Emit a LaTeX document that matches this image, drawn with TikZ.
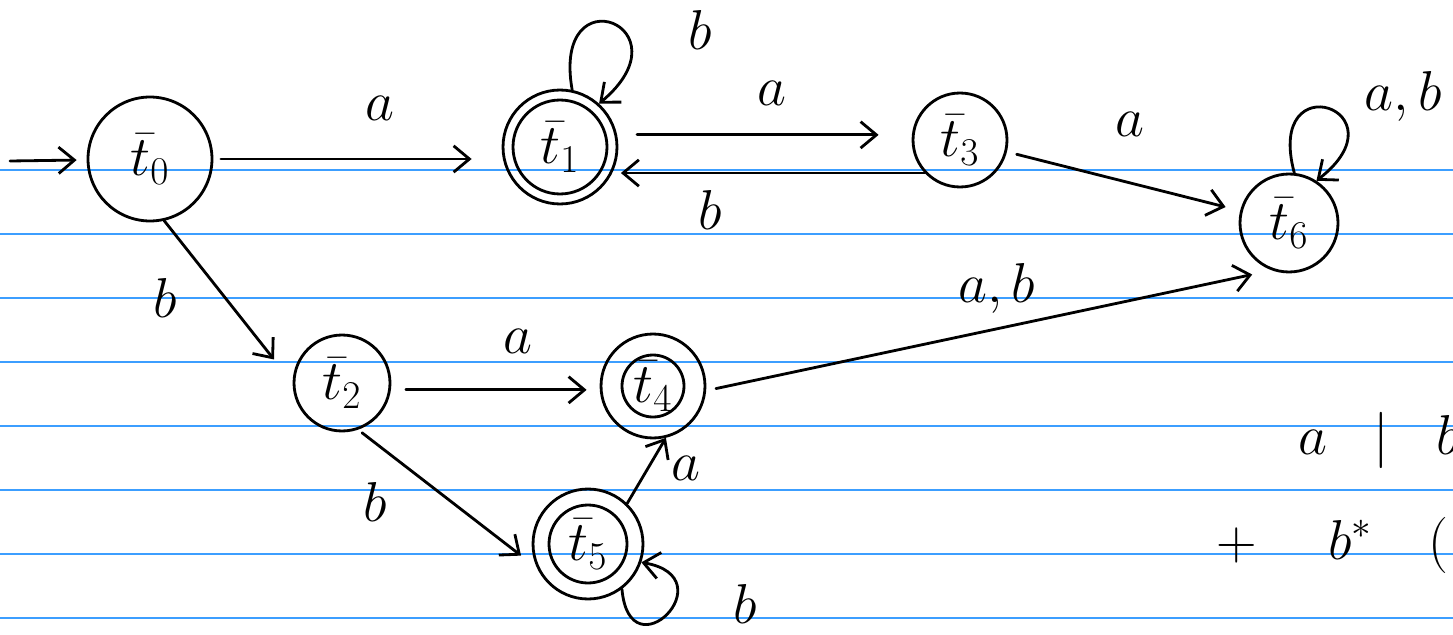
\RequirePackage{fix-cm}
\documentclass[tikz,border=0pt]{standalone}
\usepackage{amsmath,amssymb}
\usetikzlibrary{arrows.meta}
\definecolor{ruleblue}{RGB}{60,158,255}

\begin{document}
\begin{tikzpicture}[x=0.02cm, y=-0.02cm,
  state/.style={circle, draw, line width=1.6pt, inner sep=0pt},
  trans/.style={line width=1.6pt, line cap=round, -{Straight Barb[length=9pt,width=15pt]}},
  lbl/.style={font=\fontsize{32}{38}\selectfont},
  ruled/.style={ruleblue, line width=0.9pt}]
  \useasboundingbox (0,0) rectangle (1453,635);

  % 罫線
  \foreach \y in {170,234,...,618}
    \draw[ruled] (0,\y) -- (1453,\y);

  % 状態
  \node[state, lbl, minimum size=2.48cm] (t0) at (150,159) {$\bar{t}_0$};
  \node[state, lbl, minimum size=2.28cm] (t1) at (560,147) {$\bar{t}_1$};
  \node[state, minimum size=1.88cm] (t1in) at (t1) {};
  \node[state, lbl, minimum size=1.88cm] (t3) at (960,140) {$\bar{t}_3$};
  \node[state, lbl, minimum size=1.96cm] (t6) at (1289,223) {$\bar{t}_6$};
  \node[state, lbl, minimum size=1.92cm] (t2) at (342,383) {$\bar{t}_2$};
  \node[state, lbl, minimum size=2.08cm] (t4) at (653,386) {$\bar{t}_4$};
  \node[state, minimum size=1.24cm] (t4in) at (t4) {};
  \node[state, lbl, minimum size=2.2cm] (t5) at (588,544) {$\bar{t}_5$};
  \node[state, minimum size=1.56cm] (t5in) at (t5) {};

  % 遷移
  \coordinate (start) at (10,161);
  \draw[trans, shorten >=0.2cm] (start) -- (t0);
  \draw[trans, shorten <=0.15cm, shorten >=0.6cm] (t0.east) -- (t0.east -| t1.west);
  \draw[trans, shorten <=0.4cm, shorten >=0.66cm] (t1.12) -- (t1.12 -| t3.west);
  \draw[trans, shorten >=0.05cm] (t3.223) -- (t3.223 -| t1.east);
  \draw[trans, shorten <=0.2cm, shorten >=0.3cm] (t3) -- (t6);
  \draw[trans, shorten >=0.6cm] (t0.-77) -- (t2.180);
  \draw[trans, shorten <=0.3cm, shorten >=0.26cm] (t2.-8) -- (t2.-8 -| t4.west);
  \draw[trans, shorten <=0.1cm, shorten >=0.4cm] (t2.-71) -- (t5.205);
  \draw[trans] (t5.46) -- (t4.-76);
  \draw[trans, shorten <=0.2cm, shorten >=0.4cm] (t4.-5) -- (t6.250);

  % ループ
  \draw[trans] (t1.78) to[out=100, in=40, distance=2.4cm] (t1.48);
  \draw[trans] (t6.84) to[out=105, in=38, distance=2.3cm] (t6.57);
  \draw[trans] (t5.-53) to[out=-85, in=-10, distance=1.75cm] (t5.-19);

  % ラベル
  \node[lbl] (la01) at (380,108) {$a$};
  \node[lbl] (lb11) at (700,30) {$b$};
  \node[lbl] (la13) at (772,93) {$a$};
  \node[lbl] (lb31) at (710,210) {$b$};
  \node[lbl] (la36) at (1130,124) {$a$};
  \node[lbl] (lab66) at (1403,96) {$a,b$};
  \node[lbl] (lb02) at (165,298) {$b$};
  \node[lbl] (la24) at (518,341) {$a$};
  \node[lbl] (lab46) at (997,288) {$a,b$};
  \node[lbl] (lb25) at (375,502) {$b$};
  \node[lbl] (la54) at (686,468) {$a$};
  \node[lbl] (lb55) at (745,604) {$b$};

  % 右側のメモ
  \node[lbl, anchor=west] (expr1) at (1292,440) {$a \;\;\mid\;\; b$};
  \node[lbl, anchor=west] (expr2) at (1210,545) {$+\quad\; b^{*}\quad ($};
\end{tikzpicture}
\end{document}
